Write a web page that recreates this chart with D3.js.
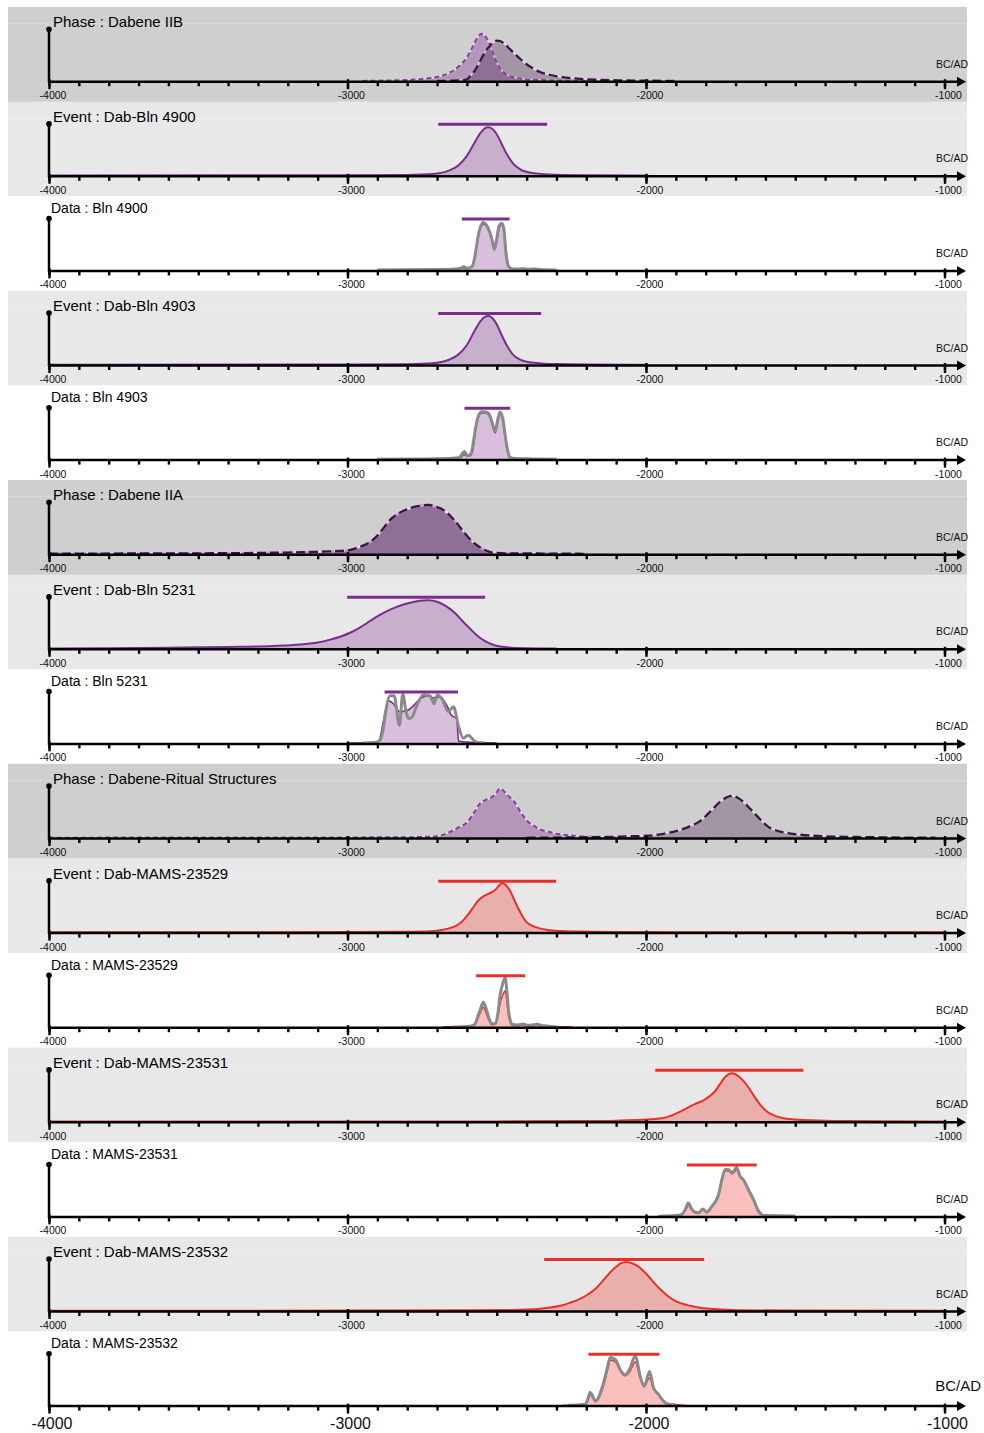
<!DOCTYPE html>
<html><head><meta charset="utf-8">
<script src="https://cdn.jsdelivr.net/npm/d3@7"></script>
<style>
body{margin:0;background:#fff}
svg{display:block}
text{font-family:"Liberation Sans",Arial,sans-serif}
</style>
</head><body>
<svg id="chart" width="984" height="1433"></svg>
<script>
// ---------------- DATA (year BC/AD, relative probability) ----------------
const panelTitles = [
  "Phase : Dabene IIB","Event : Dab-Bln 4900","Data : Bln 4900","Event : Dab-Bln 4903","Data : Bln 4903",
  "Phase : Dabene IIA","Event : Dab-Bln 5231","Data : Bln 5231","Phase : Dabene-Ritual Structures",
  "Event : Dab-MAMS-23529","Data : MAMS-23529","Event : Dab-MAMS-23531","Data : MAMS-23531",
  "Event : Dab-MAMS-23532","Data : MAMS-23532"
];
const panelTypes = ["phase","event","data","event","data","phase","event","data","phase","event","data","event","data","event","data"];
const majorTicks = [-4000,-3000,-2000,-1000];
const axisUnit = "BC/AD";

const dabeneIIB_start = [[-2950,0],[-2880,0.3],[-2800,1],[-2750,2],[-2700,4],[-2660,8],[-2630,14],[-2600,24],[-2580,35],[-2565,44],[-2549,48],[-2535,44],[-2520,34],[-2505,22],[-2490,13],[-2470,7],[-2440,3.5],[-2400,1.5],[-2350,0.8],[-2300,0.3],[-2200,0]];
const dabeneIIB_end = [[-2700,0],[-2620,0.5],[-2600,1.5],[-2589,5],[-2570,12],[-2556,20],[-2540,29],[-2522,36],[-2499,41],[-2485,40],[-2472,37],[-2455,32],[-2438,27],[-2420,22],[-2405,18],[-2380,13],[-2355,9],[-2320,6],[-2288,4],[-2250,2.8],[-2221,2],[-2150,1],[-2087,0.5],[-2000,0.2],[-1900,0]];

const dabBln4900_post = [[-4000,0],[-3000,0.2],[-2800,0.5],[-2750,1],[-2700,2],[-2660,5],[-2630,10],[-2600,20],[-2575,33],[-2555,43],[-2540,48],[-2529,49],[-2515,47.5],[-2500,42],[-2485,33],[-2465,21],[-2445,12],[-2420,6],[-2390,3],[-2350,1.5],[-2300,0.8],[-2200,0.3],[-2000,0]];
const dabBln4900_range = [-2696,-2331];

const bln4900_like = [[-2900,0],[-2700,0.5],[-2640,1],[-2620,2],[-2610,3.5],[-2600,2],[-2590,2.5],[-2580,5],[-2572,16],[-2562,35],[-2552,46],[-2545,48.5],[-2535,46],[-2525,40],[-2515,30],[-2508,21],[-2500,32],[-2492,45],[-2483,47.5],[-2476,42],[-2470,20],[-2461,4],[-2450,1.5],[-2430,1],[-2412,1.5],[-2395,0.8],[-2370,1.2],[-2355,0.5],[-2300,0]];
const bln4900_post = [[-2880,0],[-2700,0.3],[-2640,0.8],[-2615,2],[-2600,1.5],[-2585,3],[-2575,12],[-2565,30],[-2555,43],[-2545,47],[-2535,45],[-2525,39],[-2515,29],[-2508,22],[-2500,31],[-2492,43],[-2483,46.5],[-2476,41],[-2468,18],[-2460,4],[-2450,1.2],[-2420,0.8],[-2380,0.5],[-2330,0.3],[-2300,0]];
const bln4900_range = [-2617,-2457];

const dabBln4903_post = [[-4000,0],[-3000,0.2],[-2800,0.5],[-2750,1],[-2700,2],[-2660,5],[-2630,10],[-2600,20],[-2575,34],[-2555,44],[-2540,48.5],[-2528,49.5],[-2515,47.5],[-2500,41],[-2485,31],[-2465,19],[-2445,10],[-2420,5],[-2390,2.5],[-2350,1.2],[-2300,0.6],[-2200,0.2],[-2000,0]];
const dabBln4903_range = [-2696,-2351];

const bln4903_like = [[-2900,0],[-2750,0.3],[-2700,0.5],[-2650,1],[-2625,2],[-2615,6],[-2608,8],[-2600,4],[-2590,4.5],[-2584,8],[-2578,18],[-2572,30],[-2562,44],[-2550,48.4],[-2538,48],[-2528,47],[-2518,40],[-2505,28.4],[-2497,40],[-2489,48],[-2480,42],[-2472,25],[-2466,13],[-2455,2],[-2440,0.8],[-2400,0.5],[-2350,0.3],[-2300,0]];
const bln4903_post = [[-2850,0],[-2700,0.3],[-2640,0.8],[-2620,2],[-2610,5],[-2600,3.5],[-2588,4],[-2580,10],[-2572,28],[-2562,42],[-2550,47],[-2538,47],[-2528,45.5],[-2518,39],[-2505,27],[-2497,38],[-2489,46.5],[-2480,40],[-2472,23],[-2466,11],[-2455,1.5],[-2430,0.6],[-2380,0.3],[-2300,0]];
const bln4903_range = [-2608,-2455];

// start and end boundaries of Dabene IIA coincide
const dabeneIIA_boundary = [[-4000,0.3],[-3600,0.5],[-3300,1],[-3150,1.8],[-3060,2.5],[-3002,3.5],[-2960,7],[-2913,14.7],[-2885,24],[-2857,34.7],[-2830,41],[-2801,45.3],[-2765,48.5],[-2729,49.7],[-2700,47.5],[-2679,44.7],[-2655,38.5],[-2634,31.3],[-2610,22],[-2589,14.7],[-2565,8.5],[-2545,4.7],[-2511,1.3],[-2450,0.5],[-2300,0.3],[-2200,0]];

const dabBln5231_post = [[-4000,0],[-3800,0.3],[-3600,0.8],[-3400,1.5],[-3250,2.5],[-3159,4],[-3100,6],[-3058,9],[-3020,12.5],[-2991,16],[-2960,21],[-2924,28],[-2890,34.5],[-2857,39.5],[-2820,44],[-2790,46.5],[-2757,48.5],[-2730,49],[-2700,47.5],[-2670,43],[-2640,36],[-2615,28],[-2589,20],[-2565,13],[-2539,7.5],[-2510,3.5],[-2489,2],[-2450,0.8],[-2400,0.3],[-2300,0]];
const dabBln5231_range = [-3001,-2539];

const bln5231_like = [[-2950,0],[-2910,0.5],[-2891,3],[-2880,15],[-2874,28],[-2857,48],[-2844,48],[-2826,18],[-2815,50],[-2804,32],[-2796,25],[-2785,26],[-2768,38],[-2746,49],[-2723,48],[-2710,40],[-2699,49],[-2684,45],[-2662,32],[-2645,37],[-2628,17],[-2612,5],[-2595,8],[-2578,3],[-2567,1],[-2540,0]];
const bln5231_post = [[-3000,0],[-2920,0.5],[-2895,2],[-2880,22],[-2863,43],[-2846,40],[-2826,32],[-2801,33],[-2779,38],[-2757,45],[-2734,48],[-2712,46],[-2690,47],[-2667,38],[-2651,28],[-2634,25],[-2628,2],[-2600,1],[-2560,0.5],[-2500,0]];
const bln5231_range = [-2876,-2630];

const ritual_start = [[-4000,0],[-3500,0.2],[-3000,0.3],[-2800,0.5],[-2700,1.5],[-2656,6],[-2625,11],[-2599,15.5],[-2575,26],[-2555,35],[-2540,38],[-2520,40.5],[-2505,44],[-2489,50],[-2475,47],[-2460,42],[-2445,38],[-2420,26],[-2398,17],[-2375,12],[-2355,8.5],[-2320,5.5],[-2288,3.5],[-2240,2],[-2197,1],[-2100,0.5],[-2000,0]];
const ritual_end = [[-2400,0],[-2200,0.5],[-2100,1],[-2050,1.5],[-1996,2],[-1940,4],[-1896,7],[-1850,12],[-1818,17],[-1780,28],[-1750,37],[-1712,42.5],[-1680,38],[-1650,29],[-1617,18.5],[-1590,11],[-1560,7],[-1520,4.5],[-1483,3],[-1400,1.5],[-1300,0.8],[-1200,0.3],[-1030,0]];

const dabMAMS23529_post = [[-4000,0],[-3000,0.2],[-2800,0.5],[-2720,1],[-2690,2],[-2660,4],[-2640,6],[-2620,10],[-2596,18],[-2575,27],[-2563,32],[-2545,36.5],[-2529,39],[-2515,41],[-2506,43],[-2495,46.5],[-2482,50],[-2470,48],[-2455,42],[-2440,32],[-2429,25],[-2415,17],[-2405,12],[-2390,8],[-2372,5.5],[-2350,3.5],[-2322,2.2],[-2280,1.2],[-2221,0.7],[-2087,0.3],[-1900,0.1],[-1000,0]];
const dabMAMS23529_range = [-2696,-2301];

const mams23529_like = [[-2650,0],[-2600,0.5],[-2585,1],[-2573,3],[-2562,12],[-2556,17],[-2545,25],[-2535,18],[-2525,8],[-2517,3],[-2505,3.5],[-2497,12],[-2489,32],[-2479,45],[-2472,50],[-2466,36],[-2461,18],[-2455,7],[-2450,3],[-2430,2],[-2411,3],[-2395,1.5],[-2380,2],[-2366,2.7],[-2350,1.5],[-2332,1],[-2300,0]];
const mams23529_post = [[-2680,0],[-2620,0.3],[-2585,0.8],[-2573,2.5],[-2562,10],[-2556,14],[-2545,20],[-2535,14],[-2525,6],[-2517,2.5],[-2505,3],[-2497,10],[-2489,24],[-2479,33],[-2472,36.7],[-2466,27],[-2461,13],[-2455,5],[-2450,2],[-2430,1.2],[-2411,2],[-2390,1],[-2366,1.5],[-2330,0.5],[-2300,0.2],[-2250,0]];
const mams23529_range = [-2569,-2405];

const dabMAMS23531_post = [[-4000,0],[-2500,0.1],[-2200,0.4],[-2100,0.8],[-2030,1.5],[-1985,2.2],[-1953,3],[-1920,5.5],[-1886,10],[-1860,14],[-1835,18],[-1810,21],[-1790,25],[-1768,31],[-1750,39],[-1734,45.5],[-1711,49],[-1690,46],[-1670,40],[-1651,32],[-1634,24],[-1617,17],[-1600,11.5],[-1584,8],[-1560,5],[-1534,3],[-1500,2],[-1450,1.2],[-1400,0.7],[-1316,0.4],[-1200,0.2],[-1000,0]];
const dabMAMS23531_range = [-1969,-1473];

const mams23531_like = [[-1950,0],[-1900,0.5],[-1880,1.7],[-1868,7],[-1858,13.3],[-1850,9],[-1841,5],[-1824,3.3],[-1810,7.3],[-1796,4],[-1779,10],[-1765,16],[-1757,21.7],[-1745,38],[-1735,47.3],[-1723,47],[-1712,44],[-1696,49.3],[-1685,40.7],[-1673,36.7],[-1657,26.7],[-1640,16.7],[-1623,5],[-1606,0.7],[-1550,0.3],[-1500,0]];
const mams23531_post = [[-1960,0],[-1900,0.4],[-1880,1.5],[-1868,6],[-1858,11],[-1850,8],[-1841,4.5],[-1824,3],[-1810,6.5],[-1796,4],[-1779,10],[-1765,17],[-1757,23],[-1745,38],[-1735,46],[-1723,46],[-1712,43],[-1696,47],[-1685,41],[-1673,37],[-1657,28],[-1640,18],[-1623,6],[-1606,1],[-1560,0.4],[-1500,0]];
const mams23531_range = [-1863,-1629];

const dabMAMS23532_post = [[-4000,0],[-3000,0.1],[-2600,0.4],[-2450,0.8],[-2400,1.2],[-2355,2],[-2320,3.2],[-2288,5],[-2255,8],[-2221,12],[-2195,16.5],[-2170,22],[-2150,28.5],[-2137,33],[-2120,39],[-2103,44],[-2085,48],[-2066,49.5],[-2045,48],[-2026,45],[-2006,39.5],[-1986,33],[-1966,26],[-1946,20],[-1925,14.5],[-1902,10],[-1878,7],[-1852,5],[-1820,3],[-1785,2],[-1730,1],[-1685,0.5],[-1500,0.1],[-1000,0]];
const dabMAMS23532_range = [-2341,-1805];

const mams23532_like = [[-2260,0],[-2230,0.3],[-2204,1],[-2195,6],[-2187,13.3],[-2178,9],[-2170,4.3],[-2159,8],[-2148,17],[-2137,29],[-2128,40],[-2120,48.7],[-2103,46.7],[-2086,36],[-2070,31],[-2055,36.7],[-2036,50],[-2019,29],[-2006,19.3],[-1988,34.3],[-1975,17.7],[-1958,11],[-1942,4.3],[-1925,1],[-1897,0]];
const mams23532_post = [[-2280,0],[-2230,0.5],[-2204,1.5],[-2195,5],[-2187,11],[-2178,8],[-2170,4],[-2159,7],[-2148,15],[-2137,26],[-2128,37],[-2120,46],[-2103,44.5],[-2086,35],[-2070,30],[-2055,34],[-2036,44],[-2019,28],[-2006,20],[-1988,27.7],[-1975,18],[-1958,11],[-1942,5],[-1925,1.5],[-1897,0.5],[-1870,0]];
const mams23532_range = [-2193,-1955];

const rangeLevel = 52;

// ---------------- PANEL TABLE (built from the arrays) ----------------
const panelSeries = [
  {start:dabeneIIB_start, end:dabeneIIB_end},
  {color:"purple", post:dabBln4900_post, range:dabBln4900_range},
  {color:"purple", like:bln4900_like, post:bln4900_post, range:bln4900_range},
  {color:"purple", post:dabBln4903_post, range:dabBln4903_range},
  {color:"purple", like:bln4903_like, post:bln4903_post, range:bln4903_range},
  {start:dabeneIIA_boundary, end:dabeneIIA_boundary},
  {color:"purple", post:dabBln5231_post, range:dabBln5231_range},
  {color:"purple", like:bln5231_like, post:bln5231_post, range:bln5231_range},
  {start:ritual_start, end:ritual_end},
  {color:"red", post:dabMAMS23529_post, range:dabMAMS23529_range},
  {color:"red", like:mams23529_like, post:mams23529_post, range:mams23529_range},
  {color:"red", post:dabMAMS23531_post, range:dabMAMS23531_range},
  {color:"red", like:mams23531_like, post:mams23531_post, range:mams23531_range},
  {color:"red", post:dabMAMS23532_post, range:dabMAMS23532_range},
  {color:"red", like:mams23532_like, post:mams23532_post, range:mams23532_range}
];
const panels = panelTitles.map((t,i)=>Object.assign({title:t, type:panelTypes[i]}, panelSeries[i]));

// ---------------- STYLE ----------------
const palette = {
  purple:{line:"#7b2d8e", fill:"rgba(127,47,143,0.30)"},
  red:{line:"#e8302a", fill:"rgba(232,48,42,0.31)"}
};
const bgColor = {phase:"#cecfce", event:"#e8e8e8", data:"#ffffff"};

const svg = d3.select("#chart");
const top0 = 7, panelH = 94.6;
const x = d3.scaleLinear().domain([-4000,-1000]).range([49,944.5]);
const minorTicks = d3.range(-4000,-999,100);

panels.forEach((p,i)=>{
  const top = top0 + i*panelH;
  const axisY = top + 74.7;
  const last = i === panels.length-1;
  const y = d3.scaleLinear().domain([0,50]).range([axisY-0.8, axisY-50]);
  const g = svg.append("g");

  g.append("rect").attr("x",8).attr("y",top).attr("width",959).attr("height",panelH+0.5)
    .attr("fill",bgColor[p.type]);
  if(p.type!=="data"){
    g.append("line").attr("x1",8).attr("x2",967).attr("y1",y(58)).attr("y2",y(58))
      .attr("stroke","#ffffff").attr("stroke-opacity",0.25).attr("stroke-width",1);
  }

  const area = d3.area().x(d=>x(d[0])).y0(y(0)).y1(d=>y(d[1])).curve(d3.curveMonotoneX);
  const line = d3.line().x(d=>x(d[0])).y(d=>y(d[1])).curve(d3.curveMonotoneX);

  if(p.type==="phase"){
    g.append("path").datum(p.start).attr("d",area).attr("fill","rgba(127,47,143,0.35)");
    g.append("path").datum(p.end).attr("d",area).attr("fill","rgba(61,21,69,0.30)");
    [[p.start,"#8a3c9e","5,3",2],[p.end,"#3b1444","9,4",2.3]].forEach(([d,c,dash,w])=>{
      g.append("path").datum(d).attr("d",line).attr("fill","none")
        .attr("stroke","#ffffff").attr("stroke-opacity",0.45).attr("stroke-width",w);
      g.append("path").datum(d).attr("d",line).attr("fill","none")
        .attr("stroke",c).attr("stroke-width",w).attr("stroke-dasharray",dash);
    });
  } else {
    const col = palette[p.color];
    g.append("path").datum(p.post).attr("d",area).attr("fill",col.fill);
    g.append("path").datum(p.post).attr("d",line).attr("fill","none")
      .attr("stroke",col.line).attr("stroke-width",p.type==="event"?2:1.6);
    if(p.like){
      g.append("path").datum(p.like).attr("d",line).attr("fill","none")
        .attr("stroke","#8a8a8a").attr("stroke-width",3).attr("stroke-linejoin","round");
    }
    g.append("line").attr("x1",x(p.range[0])).attr("x2",x(p.range[1]))
      .attr("y1",y(rangeLevel)).attr("y2",y(rangeLevel))
      .attr("stroke",col.line).attr("stroke-width",3);
  }

  // axes
  const ax = g.append("g").attr("transform",`translate(0,${axisY})`);
  ax.call(d3.axisBottom(x).tickValues(minorTicks).tickSize(4.5).tickFormat(""))
    .call(s=>s.select(".domain").remove());
  ax.selectAll(".tick line").attr("stroke","#000").attr("stroke-width",2.4);
  const axM = g.append("g").attr("transform",`translate(0,${axisY})`);
  axM.call(d3.axisBottom(x).tickValues(majorTicks).tickSize(7.5).tickFormat(d=>String(d)))
    .call(s=>s.select(".domain").remove());
  axM.selectAll(".tick line").attr("stroke","#000").attr("stroke-width",2.4).attr("y1",-2.5);
  axM.selectAll(".tick text")
    .attr("fill","#111").attr("dy",0)
    .attr("y", last?23:17.5).attr("dx", last?2.5:3.5)
    .style("font-size", last?"16px":"10.5px")
    .style("font-family","'Liberation Sans',Arial,sans-serif");

  g.append("line").attr("x1",49).attr("x2",958).attr("y1",axisY).attr("y2",axisY)
    .attr("stroke","#000").attr("stroke-width",2.5);
  g.append("path").attr("d",`M957,${axisY-5}L966,${axisY}L957,${axisY+5}Z`).attr("fill","#000");
  g.append("line").attr("x1",49).attr("x2",49).attr("y1",axisY+1).attr("y2",top+23)
    .attr("stroke","#000").attr("stroke-width",2.5);
  g.append("circle").attr("cx",49).attr("cy",top+22.3).attr("r",2.8).attr("fill","#000");

  g.append("text").attr("x", last?981:968).attr("y", last?axisY-15.5:axisY-14)
    .attr("text-anchor","end").style("font-size", last?"15px":"10.5px").attr("fill","#111")
    .text(axisUnit);

  const isData = p.type==="data";
  g.append("text").attr("x", isData?51:53)
    .attr("y", top + (p.type==="phase"?20:(p.type==="event"?20.5:16.5)))
    .style("font-size", isData?"14px":"15px").attr("fill","#000")
    .text(p.title);
});
</script>
</body></html>
